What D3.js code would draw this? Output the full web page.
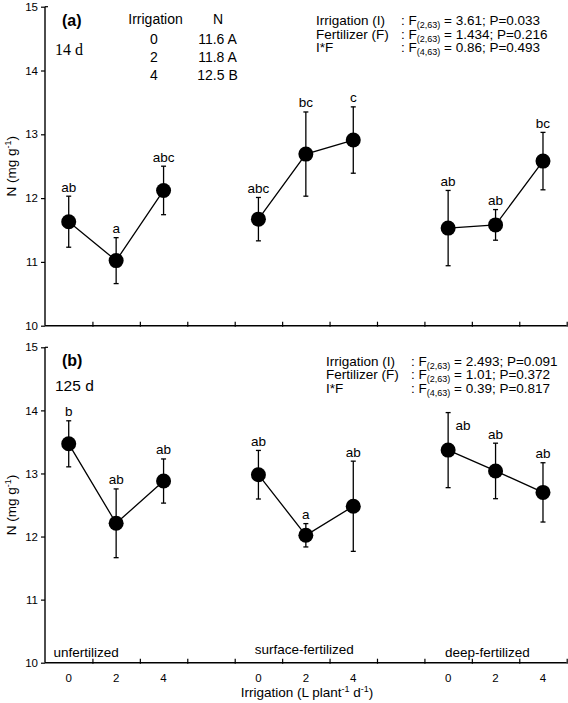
<!DOCTYPE html>
<html><head><meta charset="utf-8">
<script src="https://cdn.jsdelivr.net/npm/d3@7"></script>
<style>
html,body{margin:0;padding:0;background:#fff;}
svg{display:block;font-family:"Liberation Sans",Arial,Helvetica,sans-serif;}
</style></head>
<body>
<script>
// ---------- data ----------
const groups = ["unfertilized", "surface-fertilized", "deep-fertilized"];
const irrigationLevels = [0, 2, 4];
const yTicks = [10, 11, 12, 13, 14, 15];

// panel (a) 14 d
const meanA = [11.63, 11.02, 12.12, 11.67, 12.69, 12.91, 11.53, 11.58, 12.58];
const errA  = [0.40, 0.36, 0.38, 0.34, 0.66, 0.52, 0.59, 0.24, 0.45];
const letA  = ["ab", "a", "abc", "abc", "bc", "c", "ab", "ab", "bc"];

// panel (b) 125 d
const meanB = [13.47, 12.21, 12.88, 12.98, 12.02, 12.48, 13.37, 13.04, 12.70];
const errB  = [0.365, 0.545, 0.35, 0.385, 0.185, 0.715, 0.595, 0.44, 0.47];
const letB  = ["b", "ab", "ab", "ab", "a", "ab", "ab", "ab", "ab"];

// summary table panel (a)
const tableIrr = ["0", "2", "4"];
const tableN   = ["11.6 A", "11.8 A", "12.5 B"];

// ANOVA text
const statLabels = ["Irrigation (I)", "Fertilizer (F)", "I*F"];
const statDf     = ["(2,63)", "(2,63)", "(4,63)"];
const statA      = [" = 3.61; P=0.033", " = 1.434; P=0.216", " = 0.86; P=0.493"];
const statB      = [" = 2.493; P=0.091", " = 1.01; P=0.372", " = 0.39; P=0.817"];

// ---------- drawing ----------
const W = 568, H = 703;
const svg = d3.select("body").append("svg").attr("width", W).attr("height", H);

const posIndex = (g, i) => g * 4 + i + 0.5;
const x = d3.scaleLinear().domain([0, 11]).range([45, 566.7]);

function panel(yRange, means, errs, letters, opts) {
  const y = d3.scaleLinear().domain([10, 15]).range(yRange);
  const g = svg.append("g");

  const ya = g.append("g").attr("transform", `translate(${x(0)},0)`)
    .call(d3.axisLeft(y).tickValues(yTicks).tickSize(4).tickPadding(3).tickFormat(d3.format("d")));
  ya.select(".domain").attr("stroke-width", 1.4).attr("d", `M-0,${y(15)}H0V${y(10)}`);
  ya.selectAll(".tick line").attr("stroke-width", 1.2);
  ya.selectAll(".tick text").attr("font-size", 11.5).attr("font-family", "Liberation Sans, Arial, sans-serif").attr("fill", "#000");
  g.append("line").attr("x1", x(0)).attr("x2", x(0) + 3).attr("y1", y(15)).attr("y2", y(15))
    .attr("stroke", "#000").attr("stroke-width", 1.2);

  const xa = g.append("g").attr("transform", `translate(0,${y(10)})`)
    .call(d3.axisBottom(x).tickValues(d3.range(1, 12)).tickSize(-4).tickFormat(""));
  xa.select(".domain").attr("stroke-width", 1.4).attr("d", `M${x(0)},0H${x(11)}`);
  xa.selectAll(".tick line").attr("stroke-width", 1.2).attr("y2", -4).attr("y1", 1);

  const yt = g.append("text")
    .attr("transform", `translate(16,${(yRange[0] + yRange[1]) / 2}) rotate(-90)`)
    .attr("text-anchor", "middle").attr("font-size", 13.5);
  yt.append("tspan").text("N (mg g");
  yt.append("tspan").text("-1").attr("font-size", 9).attr("dy", -5);
  yt.append("tspan").text(")").attr("dy", 5);

  const pts = [];
  groups.forEach((gr, gi) => irrigationLevels.forEach((lv, li) => {
    const k = gi * 3 + li;
    pts.push({ g: gi, i: li, k, m: means[k], e: errs[k], l: letters[k] });
  }));

  const line = d3.line().x(d => x(posIndex(d.g, d.i))).y(d => y(d.m));
  groups.forEach((gr, gi) => {
    g.append("path").datum(pts.filter(p => p.g === gi)).attr("d", line)
      .attr("fill", "none").attr("stroke", "#000").attr("stroke-width", 1.3);
  });

  const eb = g.selectAll(".eb").data(pts).enter().append("g");
  eb.append("line").attr("x1", d => x(posIndex(d.g, d.i))).attr("x2", d => x(posIndex(d.g, d.i)))
    .attr("y1", d => y(d.m - d.e)).attr("y2", d => y(d.m + d.e)).attr("stroke", "#000").attr("stroke-width", 1.3);
  [1, -1].forEach(s => {
    eb.append("line").attr("x1", d => x(posIndex(d.g, d.i)) - 2.5).attr("x2", d => x(posIndex(d.g, d.i)) + 2.5)
      .attr("y1", d => y(d.m + s * d.e)).attr("y2", d => y(d.m + s * d.e)).attr("stroke", "#000").attr("stroke-width", 1.3);
  });
  eb.append("circle").attr("cx", d => x(posIndex(d.g, d.i))).attr("cy", d => y(d.m)).attr("r", 7.5).attr("fill", "#000");

  eb.append("text")
    .attr("x", d => x(posIndex(d.g, d.i)) + (opts.sideLabel === d.k ? 15 : 0))
    .attr("y", d => y(d.m + d.e) + (opts.sideLabel === d.k ? 17 : -4.5))
    .attr("text-anchor", "middle").attr("font-size", 13.5).text(d => d.l);

  return y;
}

const yA = panel([325.7, 6.7], meanA, errA, letA, { sideLabel: -1 });
const yB = panel([662.7, 347.3], meanB, errB, letB, { sideLabel: 6 });

// panel labels
svg.append("text").attr("x", 62).attr("y", 26).attr("font-size", 16).attr("font-weight", "bold").text("(a)");
svg.append("text").attr("x", 62).attr("y", 366).attr("font-size", 16).attr("font-weight", "bold").text("(b)");
svg.append("text").attr("x", 55).attr("y", 55).attr("font-size", 16)
  .attr("font-family", "Liberation Serif, Times New Roman, serif").text("14 d");
svg.append("text").attr("x", 55).attr("y", 391).attr("font-size", 15.5).text("125 d");

// table
svg.append("text").attr("x", 155.5).attr("y", 24).attr("text-anchor", "middle").attr("font-size", 14).text("Irrigation");
svg.append("text").attr("x", 218).attr("y", 24).attr("text-anchor", "middle").attr("font-size", 14).text("N");
tableIrr.forEach((t, i) => {
  svg.append("text").attr("x", 154).attr("y", 43.5 + i * 18).attr("text-anchor", "middle").attr("font-size", 14).text(t);
  svg.append("text").attr("x", 217.5).attr("y", 43.5 + i * 18).attr("text-anchor", "middle").attr("font-size", 14).text(tableN[i]);
});

// stats
function stats(x0, xc, y0, vals) {
  statLabels.forEach((s, i) => {
    const yy = y0 + i * 13.6;
    svg.append("text").attr("x", x0).attr("y", yy).attr("font-size", 13.5).text(s);
    const t = svg.append("text").attr("x", xc).attr("y", yy).attr("font-size", 13.5);
    t.append("tspan").text(": F");
    t.append("tspan").text(statDf[i]).attr("font-size", 9).attr("dy", 3);
    t.append("tspan").text(vals[i]).attr("dy", -3);
  });
}
stats(316, 401, 25, statA);
stats(326, 411, 365.5, statB);

// group labels (panel b)
const groupX = [53.6, 254.7, 445];
const groupY = [657, 654, 657];
groups.forEach((g, i) => {
  svg.append("text").attr("x", groupX[i]).attr("y", groupY[i]).attr("font-size", 13.5).text(g);
});

// x tick labels panel b
groups.forEach((g, gi) => irrigationLevels.forEach((lv, li) => {
  svg.append("text").attr("x", x(posIndex(gi, li))).attr("y", yB(10) + 19.5).attr("text-anchor", "middle")
    .attr("font-size", 11.5).text(lv);
}));

// x title
const xt = svg.append("text").attr("x", 307).attr("y", 697).attr("text-anchor", "middle").attr("font-size", 13.5);
xt.append("tspan").text("Irrigation (L plant");
xt.append("tspan").text("-1").attr("font-size", 9).attr("dy", -5);
xt.append("tspan").text(" d").attr("dy", 5);
xt.append("tspan").text("-1").attr("font-size", 9).attr("dy", -5);
xt.append("tspan").text(")").attr("dy", 5);
</script>
</body></html>
